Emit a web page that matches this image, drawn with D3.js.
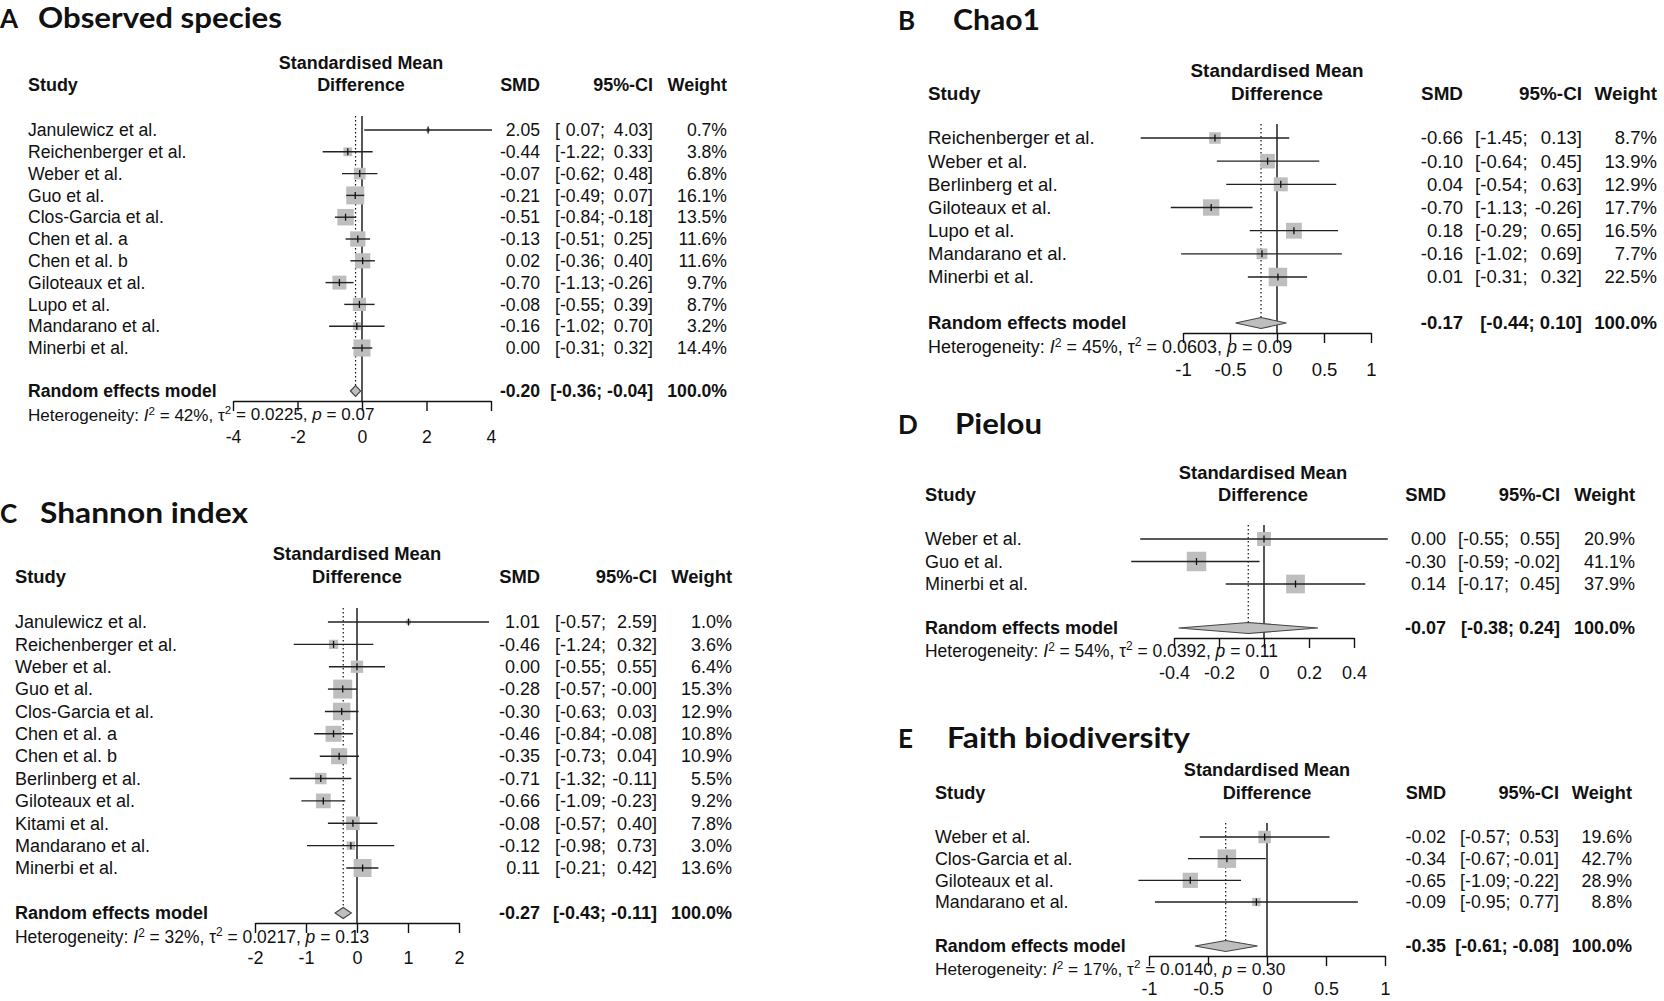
<!DOCTYPE html>
<html>
<head>
<meta charset="utf-8">
<script src="https://cdn.jsdelivr.net/npm/d3@7"></script>
<style>
  body { margin: 0; background: #fff; }
  svg text { font-family: "Liberation Sans", Arial, sans-serif; fill: #111; }
</style>
</head>
<body>
<svg id="chart" width="1664" height="1001"></svg>
<script>
// A: Observed species
const obsStudies = ["Janulewicz et al.", "Reichenberger et al.", "Weber et al.", "Guo et al.", "Clos-Garcia et al.",
  "Chen et al. a", "Chen et al. b", "Giloteaux et al.", "Lupo et al.", "Mandarano et al.", "Minerbi et al."];
const obsSmd = [2.05, -0.44, -0.07, -0.21, -0.51, -0.13, 0.02, -0.70, -0.08, -0.16, 0.00];
const obsLower = [0.07, -1.22, -0.62, -0.49, -0.84, -0.51, -0.36, -1.13, -0.55, -1.02, -0.31];
const obsUpper = [4.03, 0.33, 0.48, 0.07, -0.18, 0.25, 0.40, -0.26, 0.39, 0.70, 0.32];
const obsWeight = [0.7, 3.8, 6.8, 16.1, 13.5, 11.6, 11.6, 9.7, 8.7, 3.2, 14.4];
const obsSummary = [-0.20, -0.36, -0.04];
const obsHet = ["42%", "0.0225", "0.07"];
const obsTicks = [-4, -2, 0, 2, 4];

// B: Chao1
const chaoStudies = ["Reichenberger et al.", "Weber et al.", "Berlinberg et al.", "Giloteaux et al.", "Lupo et al.",
  "Mandarano et al.", "Minerbi et al."];
const chaoSmd = [-0.66, -0.10, 0.04, -0.70, 0.18, -0.16, 0.01];
const chaoLower = [-1.45, -0.64, -0.54, -1.13, -0.29, -1.02, -0.31];
const chaoUpper = [0.13, 0.45, 0.63, -0.26, 0.65, 0.69, 0.32];
const chaoWeight = [8.7, 13.9, 12.9, 17.7, 16.5, 7.7, 22.5];
const chaoSummary = [-0.17, -0.44, 0.10];
const chaoHet = ["45%", "0.0603", "0.09"];
const chaoTicks = [-1, -0.5, 0, 0.5, 1];

// C: Shannon index
const shanStudies = ["Janulewicz et al.", "Reichenberger et al.", "Weber et al.", "Guo et al.", "Clos-Garcia et al.",
  "Chen et al. a", "Chen et al. b", "Berlinberg et al.", "Giloteaux et al.", "Kitami et al.", "Mandarano et al.", "Minerbi et al."];
const shanSmd = [1.01, -0.46, 0.00, -0.28, -0.30, -0.46, -0.35, -0.71, -0.66, -0.08, -0.12, 0.11];
const shanLower = [-0.57, -1.24, -0.55, -0.57, -0.63, -0.84, -0.73, -1.32, -1.09, -0.57, -0.98, -0.21];
const shanUpper = [2.59, 0.32, 0.55, -0.00, 0.03, -0.08, 0.04, -0.11, -0.23, 0.40, 0.73, 0.42];
const shanWeight = [1.0, 3.6, 6.4, 15.3, 12.9, 10.8, 10.9, 5.5, 9.2, 7.8, 3.0, 13.6];
const shanSummary = [-0.27, -0.43, -0.11];
const shanHet = ["32%", "0.0217", "0.13"];
const shanTicks = [-2, -1, 0, 1, 2];

// D: Pielou
const pielStudies = ["Weber et al.", "Guo et al.", "Minerbi et al."];
const pielSmd = [0.00, -0.30, 0.14];
const pielLower = [-0.55, -0.59, -0.17];
const pielUpper = [0.55, -0.02, 0.45];
const pielWeight = [20.9, 41.1, 37.9];
const pielSummary = [-0.07, -0.38, 0.24];
const pielHet = ["54%", "0.0392", "0.11"];
const pielTicks = [-0.4, -0.2, 0, 0.2, 0.4];

// E: Faith biodiversity
const faithStudies = ["Weber et al.", "Clos-Garcia et al.", "Giloteaux et al.", "Mandarano et al."];
const faithSmd = [-0.02, -0.34, -0.65, -0.09];
const faithLower = [-0.57, -0.67, -1.09, -0.95];
const faithUpper = [0.53, -0.01, -0.22, 0.77];
const faithWeight = [19.6, 42.7, 28.9, 8.8];
const faithSummary = [-0.35, -0.61, -0.08];
const faithHet = ["17%", "0.0140", "0.30"];
const faithTicks = [-1, -0.5, 0, 0.5, 1];

const svg = d3.select("#chart");
const fmt = v => (v < 0 || Object.is(v, -0) ? "-" : "") + Math.abs(v).toFixed(2);
const fmtW = v => v.toFixed(1) + "%";

function drawPanel(p) {
  const g = svg.append("g");
  const fs = p.fs;
  const x = d3.scaleLinear().domain(d3.extent(p.ticks)).range(p.xRange);
  const y = d3.scalePoint().domain(p.studies).range([p.rowTop, p.rowBottom]);
  const maxW = d3.max(p.weight);
  const side = w => p.box * Math.sqrt(w / maxW);
  const rows = p.studies.map((s, i) => ({s, smd: p.smd[i], lo: p.lower[i], hi: p.upper[i], w: p.weight[i]}));
  const top = p.rowTop - 14;
  const dh = 5.5;
  const ciSemi = p.ciL + 2.84 * fs;   // right edge of "[-0.00;"

  /* title */
  g.append("text").attr("x", p.letterX).attr("y", p.titleY)
    .style("font-family", "Lato, 'Open Sans', sans-serif").style("font-weight", 700)
    .attr("font-size", 26).text(p.letter);
  g.append("text").attr("x", p.titleX).attr("y", p.titleY)
    .style("font-family", "Lato, 'Open Sans', sans-serif").style("font-weight", 700)
    .attr("font-size", 29).attr("textLength", p.titleW).attr("lengthAdjust", "spacingAndGlyphs")
    .text(p.title);

  /* headers */
  const hfs = fs * 1.02;
  const hdr = (txt, xx, yy, anchor) => g.append("text").attr("x", xx).attr("y", yy).attr("dy", "0.35em")
    .attr("text-anchor", anchor).attr("font-size", hfs).attr("font-weight", "bold").text(txt);
  hdr("Standardised Mean", p.hdrX, p.hdrY1, "middle");
  hdr("Difference", p.hdrX, p.hdrY2, "middle");
  hdr("Study", p.studyX, p.hdrY2, "start");
  hdr("SMD", p.smdR, p.hdrY2, "end");
  hdr("95%-CI", p.ciR, p.hdrY2, "end");
  hdr("Weight", p.wR, p.hdrY2, "end");

  /* reference lines */
  g.append("line").attr("x1", x(0)).attr("x2", x(0)).attr("y1", top).attr("y2", p.axisY)
    .attr("stroke", "#111").attr("stroke-width", 1.4);
  g.append("line").attr("x1", x(p.summary[0])).attr("x2", x(p.summary[0]))
    .attr("y1", top).attr("y2", p.sumY - dh)
    .attr("stroke", "#111").attr("stroke-width", 1.2).attr("stroke-dasharray", "1.5,2.5");

  /* squares, CIs */
  const r = g.selectAll("g.row").data(rows).enter().append("g").attr("class", "row");
  r.append("rect")
    .attr("x", d => x(d.smd) - side(d.w) / 2)
    .attr("y", d => y(d.s) - side(d.w) / 2)
    .attr("width", d => side(d.w))
    .attr("height", d => side(d.w))
    .attr("fill", "#bebebe");
  r.append("line").attr("x1", d => x(d.lo)).attr("x2", d => x(d.hi))
    .attr("y1", d => y(d.s)).attr("y2", d => y(d.s))
    .attr("stroke", "#222").attr("stroke-width", 1.4);
  r.append("line").attr("x1", d => x(d.smd)).attr("x2", d => x(d.smd))
    .attr("y1", d => y(d.s) - 3.5).attr("y2", d => y(d.s) + 3.5)
    .attr("stroke", "#111").attr("stroke-width", 1.3);

  /* row texts */
  const t = (sel, xx, anchor, f) => sel.append("text").attr("x", xx).attr("y", d => y(d.s)).attr("dy", "0.35em")
    .attr("text-anchor", anchor).attr("font-size", fs).text(f);
  t(r, p.studyX, "start", d => d.s);
  t(r, p.smdR, "end", d => fmt(d.smd));
  t(r, p.ciL, "start", () => "[");
  t(r, ciSemi, "end", d => fmt(d.lo) + ";");
  t(r, p.ciR, "end", d => fmt(d.hi) + "]");
  t(r, p.wR, "end", d => fmtW(d.w));

  /* summary */
  const [est, lo, hi] = p.summary;
  g.append("path")
    .attr("d", `M${x(lo)},${p.sumY}L${x(est)},${p.sumY - dh}L${x(hi)},${p.sumY}L${x(est)},${p.sumY + dh}Z`)
    .attr("fill", "#bebebe").attr("stroke", "#444").attr("stroke-width", 1.1);
  const st = (txt, xx, anchor) => g.append("text").attr("x", xx).attr("y", p.sumY).attr("dy", "0.35em")
    .attr("text-anchor", anchor).attr("font-size", fs).attr("font-weight", "bold").text(txt);
  st("Random effects model", p.studyX, "start");
  st(fmt(est), p.smdR, "end");
  st("[" + fmt(lo) + "; " + fmt(hi) + "]", p.ciR, "end");
  st("100.0%", p.wR, "end");

  /* axis */
  const ax = g.append("g").attr("transform", `translate(0,${p.axisY})`)
    .call(d3.axisBottom(x).tickValues(p.ticks).tickSize(10).tickSizeOuter(0).tickFormat(d => String(d)));
  ax.attr("font-family", null).attr("font-size", null);
  ax.select(".domain").attr("stroke", "#111").attr("stroke-width", 1.4);
  ax.selectAll(".tick line").attr("stroke", "#111").attr("stroke-width", 1.4);
  ax.selectAll(".tick text").attr("y", p.tickY - p.axisY).attr("dy", "0.35em")
    .attr("font-size", fs).style("fill", "#111");

  /* heterogeneity */
  const ht = g.append("text").attr("x", p.studyX).attr("y", p.hetY).attr("dy", "0.35em").attr("font-size", fs * 0.97);
  ht.append("tspan").text("Heterogeneity: ");
  ht.append("tspan").attr("font-style", "italic").text("I");
  ht.append("tspan").attr("font-size", fs * 0.66).attr("dy", "-0.55em").text("2");
  ht.append("tspan").attr("dy", "0.36em").text(" = " + p.het[0] + ", \u03c4");
  ht.append("tspan").attr("font-size", fs * 0.66).attr("dy", "-0.55em").text("2");
  ht.append("tspan").attr("dy", "0.36em").text(" = " + p.het[1] + ", ");
  ht.append("tspan").attr("font-style", "italic").text("p");
  ht.append("tspan").text(" = " + p.het[2]);
}

drawPanel({letter: "A", title: "Observed species", letterX: 0, titleX: 38, titleY: 28, titleW: 244,
  studies: obsStudies, smd: obsSmd, lower: obsLower, upper: obsUpper, weight: obsWeight,
  summary: obsSummary, het: obsHet, ticks: obsTicks,
  hdrX: 361, hdrY1: 63, hdrY2: 85, studyX: 28, rowTop: 130, rowBottom: 348, xRange: [233, 491],
  sumY: 391, axisY: 401, hetY: 415, tickY: 437,
  smdR: 540, ciL: 555, ciR: 653, wR: 727, fs: 17.6, box: 18});

drawPanel({letter: "B", title: "Chao1", letterX: 898, titleX: 953, titleY: 30, titleW: 87,
  studies: chaoStudies, smd: chaoSmd, lower: chaoLower, upper: chaoUpper, weight: chaoWeight,
  summary: chaoSummary, het: chaoHet, ticks: chaoTicks,
  hdrX: 1277, hdrY1: 70, hdrY2: 93, studyX: 928, rowTop: 138, rowBottom: 277, xRange: [1183, 1371],
  sumY: 323, axisY: 333, hetY: 347, tickY: 370,
  smdR: 1463, ciL: 1475, ciR: 1582, wR: 1657, fs: 18.5, box: 18.5});

drawPanel({letter: "C", title: "Shannon index", letterX: 0, titleX: 40, titleY: 523, titleW: 208,
  studies: shanStudies, smd: shanSmd, lower: shanLower, upper: shanUpper, weight: shanWeight,
  summary: shanSummary, het: shanHet, ticks: shanTicks,
  hdrX: 357, hdrY1: 554, hdrY2: 577, studyX: 15, rowTop: 622, rowBottom: 868, xRange: [255, 459],
  sumY: 913, axisY: 923, hetY: 937, tickY: 958,
  smdR: 540, ciL: 555, ciR: 657, wR: 732, fs: 18, box: 19});

drawPanel({letter: "D", title: "Pielou", letterX: 898, titleX: 955, titleY: 434, titleW: 87,
  studies: pielStudies, smd: pielSmd, lower: pielLower, upper: pielUpper, weight: pielWeight,
  summary: pielSummary, het: pielHet, ticks: pielTicks,
  hdrX: 1263, hdrY1: 473, hdrY2: 495, studyX: 925, rowTop: 539, rowBottom: 584, xRange: [1174, 1354],
  sumY: 628, axisY: 638, hetY: 651, tickY: 673,
  smdR: 1446, ciL: 1458, ciR: 1560, wR: 1635, fs: 18, box: 19.5});

drawPanel({letter: "E", title: "Faith biodiversity", letterX: 898, titleX: 947, titleY: 748, titleW: 243,
  studies: faithStudies, smd: faithSmd, lower: faithLower, upper: faithUpper, weight: faithWeight,
  summary: faithSummary, het: faithHet, ticks: faithTicks,
  hdrX: 1267, hdrY1: 770, hdrY2: 793, studyX: 935, rowTop: 837, rowBottom: 902, xRange: [1149, 1385],
  sumY: 946, axisY: 956, hetY: 969, tickY: 989,
  smdR: 1446, ciL: 1460, ciR: 1559, wR: 1632, fs: 17.8, box: 18.5});
</script>
</body>
</html>
